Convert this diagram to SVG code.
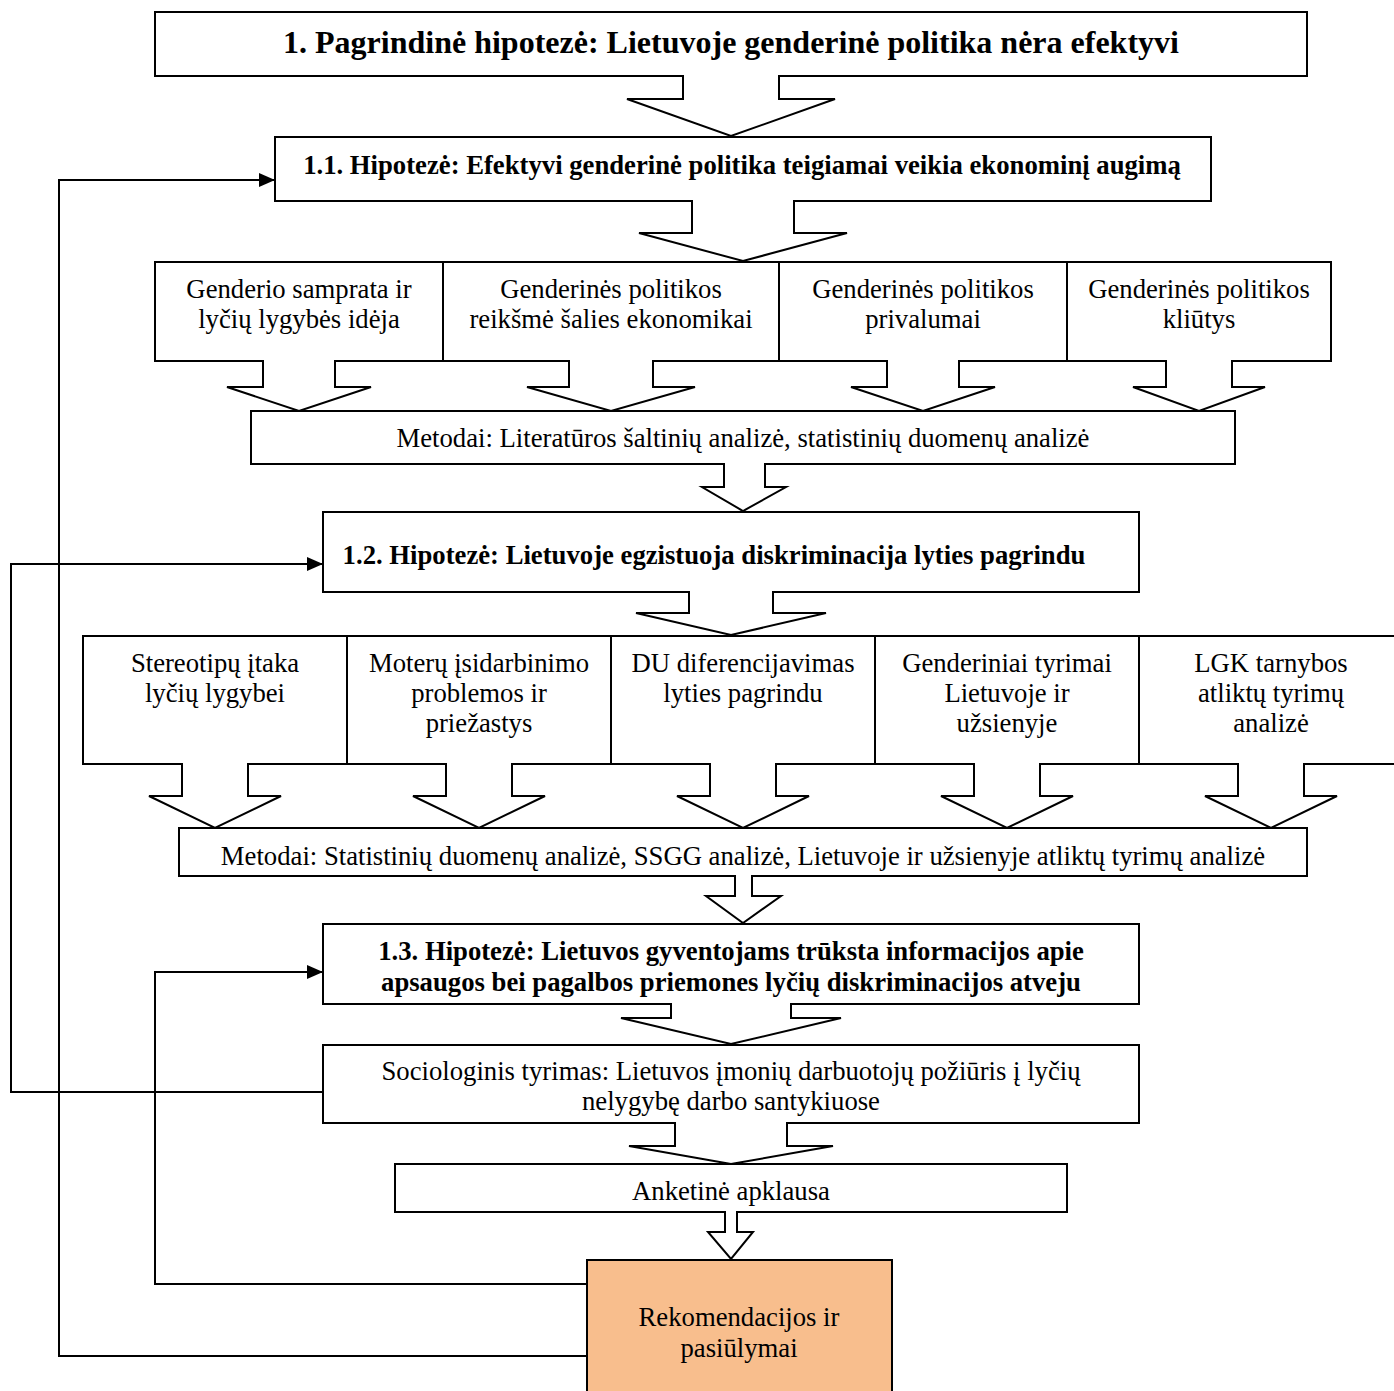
<svg xmlns="http://www.w3.org/2000/svg" width="1394" height="1391" viewBox="0 0 1394 1391">
<style>
.box{fill:#fff;stroke:#000;stroke-width:2}
.rec{fill:#F8BE8D;stroke:#000;stroke-width:2}
.t{font-family:"Liberation Serif","Times New Roman",serif;font-size:26.7px;fill:#000;text-anchor:middle}
.b{font-weight:bold}
.af{fill:#fff;stroke:none}
.as{fill:none;stroke:#000;stroke-width:2;stroke-linejoin:miter}
.c{fill:none;stroke:#000;stroke-width:2}
</style>
<defs>
<marker id="ah" markerWidth="16" markerHeight="14" refX="16" refY="7" orient="auto" markerUnits="userSpaceOnUse">
<path d="M0,0 L16,7 L0,14 Z" fill="#000"/>
</marker>
</defs>
<rect width="1394" height="1391" fill="#fff"/>

<g id="n-main"><rect class="box" x="155" y="12" width="1152" height="64"/><text class="t b" x="731" y="53" style="font-size:32px">1. Pagrindinė hipotezė: Lietuvoje genderinė politika nėra efektyvi</text></g>
<g id="n-h11"><rect class="box" x="275" y="137" width="936" height="64"/><text class="t b" x="742" y="174">1.1. Hipotezė: Efektyvi genderinė politika teigiamai veikia ekonominį augimą</text></g>

<g id="n-r1a"><rect class="box" x="155" y="262" width="288" height="99"/><text class="t" x="299" y="298">Genderio samprata ir</text><text class="t" x="299" y="328">lyčių lygybės idėja</text></g>
<g id="n-r1b"><rect class="box" x="443" y="262" width="336" height="99"/><text class="t" x="611" y="298">Genderinės politikos</text><text class="t" x="611" y="328">reikšmė šalies ekonomikai</text></g>
<g id="n-r1c"><rect class="box" x="779" y="262" width="288" height="99"/><text class="t" x="923" y="298">Genderinės politikos</text><text class="t" x="923" y="328">privalumai</text></g>
<g id="n-r1d"><rect class="box" x="1067" y="262" width="264" height="99"/><text class="t" x="1199" y="298">Genderinės politikos</text><text class="t" x="1199" y="328">kliūtys</text></g>

<g id="n-m1"><rect class="box" x="251" y="411" width="984" height="53"/><text class="t" x="743" y="447">Metodai: Literatūros šaltinių analizė, statistinių duomenų analizė</text></g>

<g id="n-h12"><rect class="box" x="323" y="512" width="816" height="80"/><text class="t b" x="714" y="564">1.2. Hipotezė: Lietuvoje egzistuoja diskriminacija lyties pagrindu</text></g>

<g id="n-r2a"><rect class="box" x="83" y="636" width="264" height="128"/><text class="t" x="215" y="672">Stereotipų įtaka</text><text class="t" x="215" y="702">lyčių lygybei</text></g>
<g id="n-r2b"><rect class="box" x="347" y="636" width="264" height="128"/><text class="t" x="479" y="672">Moterų įsidarbinimo</text><text class="t" x="479" y="702">problemos ir</text><text class="t" x="479" y="732">priežastys</text></g>
<g id="n-r2c"><rect class="box" x="611" y="636" width="264" height="128"/><text class="t" x="743" y="672">DU diferencijavimas</text><text class="t" x="743" y="702">lyties pagrindu</text></g>
<g id="n-r2d"><rect class="box" x="875" y="636" width="264" height="128"/><text class="t" x="1007" y="672">Genderiniai tyrimai</text><text class="t" x="1007" y="702">Lietuvoje ir</text><text class="t" x="1007" y="732">užsienyje</text></g>
<g id="n-r2e"><rect class="box" x="1139" y="636" width="264" height="128"/><text class="t" x="1271" y="672">LGK tarnybos</text><text class="t" x="1271" y="702">atliktų tyrimų</text><text class="t" x="1271" y="732">analizė</text></g>

<g id="n-m2"><rect class="box" x="179" y="828" width="1128" height="48"/><text class="t" x="743" y="865">Metodai: Statistinių duomenų analizė, SSGG analizė, Lietuvoje ir užsienyje atliktų tyrimų analizė</text></g>

<g id="n-h13"><rect class="box" x="323" y="924" width="816" height="80"/><text class="t b" x="731" y="960">1.3. Hipotezė: Lietuvos gyventojams trūksta informacijos apie</text><text class="t b" x="731" y="991">apsaugos bei pagalbos priemones lyčių diskriminacijos atveju</text></g>

<g id="n-soc"><rect class="box" x="323" y="1045" width="816" height="78"/><text class="t" x="731" y="1080">Sociologinis tyrimas: Lietuvos įmonių darbuotojų požiūris į lyčių</text><text class="t" x="731" y="1110">nelygybę darbo santykiuose</text></g>

<g id="n-ank"><rect class="box" x="395" y="1164" width="672" height="48"/><text class="t" x="731" y="1200">Anketinė apklausa</text></g>

<g id="n-rek"><rect class="rec" x="587" y="1260" width="305" height="140"/><text class="t" x="739" y="1326">Rekomendacijos ir</text><text class="t" x="739" y="1357">pasiūlymai</text></g>

<g id="connectors">
<path class="af" d="M684,75 V99 H627 L731,136 L835,99 H778 V75 Z"/>
<path class="as" d="M683,76 V99 H627 L731,136 L835,99 H779 V76"/>
<path class="af" d="M693,200 V233 H639 L743,261 L847,233 H793 V200 Z"/>
<path class="as" d="M692,201 V233 H639 L743,261 L847,233 H794 V201"/>

<path class="af" d="M264,360 V387 H227 L299,411 L371,387 H334 V360 Z"/>
<path class="as" d="M263,361 V387 H227 L299,411 L371,387 H335 V361"/>
<path class="af" d="M570,360 V387 H527 L611,411 L695,387 H652 V360 Z"/>
<path class="as" d="M569,361 V387 H527 L611,411 L695,387 H653 V361"/>
<path class="af" d="M888,360 V387 H851 L923,411 L995,387 H958 V360 Z"/>
<path class="as" d="M887,361 V387 H851 L923,411 L995,387 H959 V361"/>
<path class="af" d="M1167,360 V387 H1133 L1199,411 L1265,387 H1231 V360 Z"/>
<path class="as" d="M1166,361 V387 H1133 L1199,411 L1265,387 H1232 V361"/>

<path class="af" d="M725,463 V487 H702 L743,511 L786,487 H764 V463 Z"/>
<path class="as" d="M724,464 V487 H702 L743,511 L786,487 H765 V464"/>

<path class="af" d="M690,591 V613 H636 L731,635 L826,613 H772 V591 Z"/>
<path class="as" d="M689,592 V613 H636 L731,635 L826,613 H773 V592"/>

<path class="af" d="M183,763 V796 H149 L215,828 L281,796 H247 V763 Z"/>
<path class="as" d="M182,764 V796 H149 L215,828 L281,796 H248 V764"/>
<path class="af" d="M447,763 V796 H413 L479,828 L545,796 H511 V763 Z"/>
<path class="as" d="M446,764 V796 H413 L479,828 L545,796 H512 V764"/>
<path class="af" d="M711,763 V796 H677 L743,828 L809,796 H775 V763 Z"/>
<path class="as" d="M710,764 V796 H677 L743,828 L809,796 H776 V764"/>
<path class="af" d="M975,763 V796 H941 L1007,828 L1073,796 H1039 V763 Z"/>
<path class="as" d="M974,764 V796 H941 L1007,828 L1073,796 H1040 V764"/>
<path class="af" d="M1239,763 V796 H1205 L1271,828 L1337,796 H1303 V763 Z"/>
<path class="as" d="M1238,764 V796 H1205 L1271,828 L1337,796 H1304 V764"/>

<path class="af" d="M736,875 V896 H706 L743,923 L781,896 H751 V875 Z"/>
<path class="as" d="M735,876 V896 H706 L743,923 L781,896 H752 V876"/>

<path class="af" d="M672,1003 V1018 H621 L731,1044 L841,1018 H790 V1003 Z"/>
<path class="as" d="M671,1004 V1018 H621 L731,1044 L841,1018 H791 V1004"/>

<path class="af" d="M676,1122 V1146 H629 L731,1164 L833,1146 H786 V1122 Z"/>
<path class="as" d="M675,1123 V1146 H629 L731,1164 L833,1146 H787 V1123"/>

<path class="af" d="M726,1211 V1232 H708 L731,1259 L753,1232 H736 V1211 Z"/>
<path class="as" d="M725,1212 V1232 H708 L731,1259 L753,1232 H737 V1212"/>

<path class="c" d="M587,1356 H59 V180 H275" marker-end="url(#ah)"/>
<path class="c" d="M587,1284 H155 V972 H323" marker-end="url(#ah)"/>
<path class="c" d="M323,1092 H11 V564 H323" marker-end="url(#ah)"/>
</g>
</svg>
